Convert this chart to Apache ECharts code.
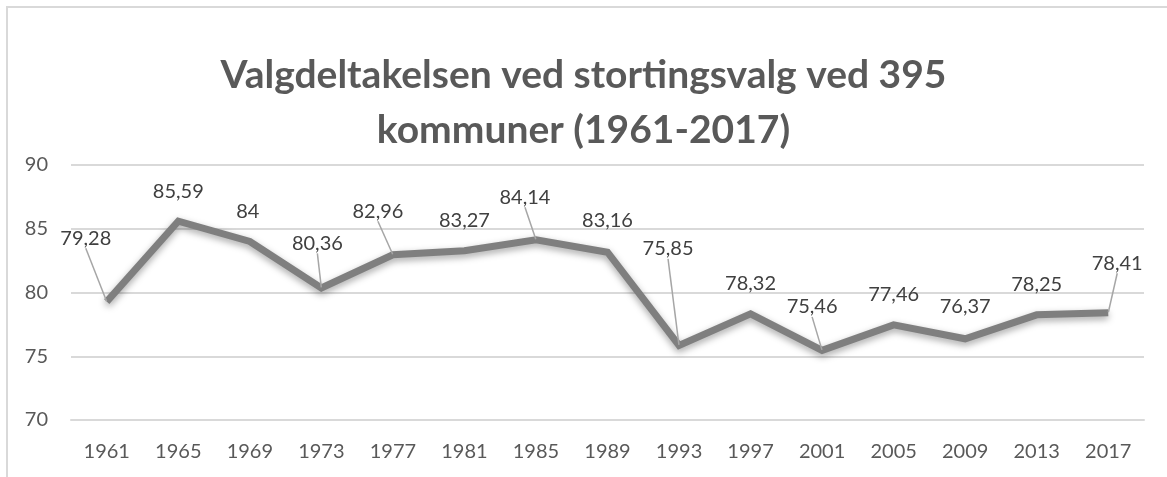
<!DOCTYPE html>
<html>
<head>
<meta charset="utf-8">
<script src="https://cdn.jsdelivr.net/npm/echarts@6/dist/echarts.min.js"></script>
<style>
  html, body { margin: 0; padding: 0; background: #fff; }
  #chart { width: 1167px; height: 477px; }
</style>
</head>
<body>
<div id="chart"></div>
<script>
// data
const years = ['1961', '1965', '1969', '1973', '1977', '1981', '1985', '1989',
  '1993', '1997', '2001', '2005', '2009', '2013', '2017'];
const turnout = [79.28, 85.59, 84, 80.36, 82.96, 83.27, 84.14, 83.16,
  75.85, 78.32, 75.46, 77.46, 76.37, 78.25, 78.41];
const yTicks = [70, 75, 80, 85, 90];

// label nudges (dx, dy) relative to the default 'top' place; leader line where moved
const labelShift = [[-21, -33], [0, 1], [-2, 1], [-4, -14], [-15, -13], [0, 0], [-11, -12],
  [0, -1], [-11, -66], [0, 0], [-10, -13], [0, 0], [0, -2], [0, 0], [9, -19]];
const withLeader = [true, false, false, true, true, false, true, false, true, false, true,
  false, false, false, true];

const textColor = '#595959';
const chart = echarts.init(document.getElementById('chart'));

chart.setOption({
  animation: false,
  backgroundColor: '#fff',
  title: {
    text: 'Valgdeltakelsen ved stortingsvalg ved 395\nkommuner (1961-2017)',
    left: 'center',
    top: 43,
    textStyle: {
      color: textColor,
      fontFamily: 'Lato',
      fontWeight: 'bold',
      fontSize: 39,
      lineHeight: 55
    }
  },
  graphic: [{
    type: 'rect',
    shape: { x: 7, y: 7, width: 1200, height: 520 },
    style: { fill: 'none', stroke: '#d9d9d9', lineWidth: 2 },
    silent: true
  }],
  grid: { left: 71, right: 23, top: 165, bottom: 57 },
  xAxis: {
    type: 'category',
    data: years,
    boundaryGap: true,
    axisLine: { show: true, lineStyle: { color: '#d9d9d9', width: 2 } },
    axisTick: { show: false },
    axisLabel: { color: textColor, fontFamily: 'Lato', fontSize: 20, margin: 22 }
  },
  yAxis: {
    type: 'value',
    min: yTicks[0],
    max: yTicks[yTicks.length - 1],
    interval: 5,
    axisLine: { show: false },
    axisTick: { show: false },
    axisLabel: { color: textColor, fontFamily: 'Lato', fontSize: 20, margin: 23 },
    splitLine: { lineStyle: { color: '#d9d9d9', width: 2 } }
  },
  series: [{
    type: 'line',
    data: turnout.map((v, i) => ({
      value: v,
      labelLine: { show: withLeader[i] }
    })),
    showSymbol: true,
    symbol: 'circle',
    symbolSize: 1,
    itemStyle: { color: 'rgba(0,0,0,0)', borderWidth: 0 },
    lineStyle: {
      color: '#7f7f7f',
      width: 7,
      join: 'miter',
      shadowColor: 'rgba(0,0,0,0.35)',
      shadowBlur: 7,
      shadowOffsetY: 3
    },
    label: {
      show: true,
      position: 'top',
      distance: 20,
      color: '#404040',
      opacity: 1,
      fontFamily: 'Lato',
      fontSize: 20,
      formatter: p => String(p.value).replace('.', ',')
    },
    labelLine: { lineStyle: { color: '#a6a6a6', width: 1.5 } },
    labelLayout: p => ({ dx: labelShift[p.dataIndex][0], dy: labelShift[p.dataIndex][1] })
  }]
});
</script>
</body>
</html>
